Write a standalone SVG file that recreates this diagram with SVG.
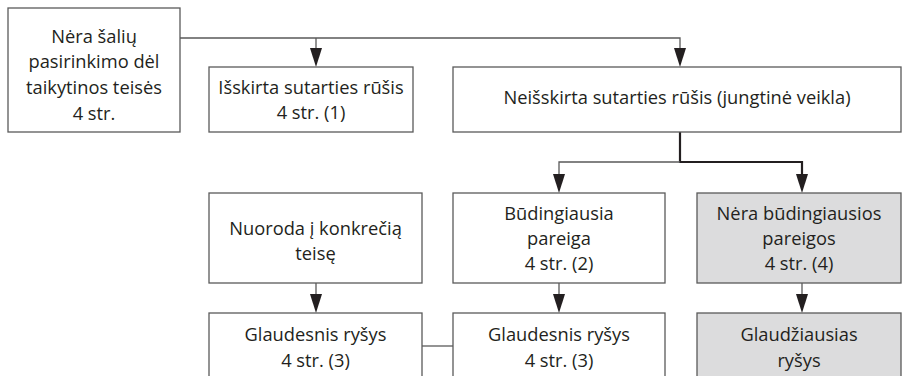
<svg xmlns="http://www.w3.org/2000/svg" width="903" height="376" viewBox="0 0 903 376">
<defs>
<style>
.box{fill:#ffffff;stroke:#5a5a5a;stroke-width:1.3}
.gray{fill:#dcdcdd;stroke:#5a5a5a;stroke-width:1.3}
text{font-family:"Open Sans","Liberation Sans",sans-serif;font-size:18.3px;fill:#231f20;text-anchor:middle}
.thin{fill:none;stroke:#5a5a5a;stroke-width:1.3}
.thick{fill:none;stroke:#231f20;stroke-width:2.2}
</style>
</defs>
<rect width="903" height="376" fill="#ffffff"/>
<g id="connectors">
<polyline class="thin" points="180,38 680,38 680,48"/>
<line class="thin" x1="316" y1="38" x2="316" y2="48"/>
<polygon points="310,48 322,48 316,67" fill="#231f20"/>
<polygon points="674,48 686,48 680,67" fill="#231f20"/>
<polyline class="thick" points="680,132 680,162 802,162 802,174"/>
<polyline class="thin" points="680,162 559,162 559,174"/>
<polygon points="553,174 565,174 559,193" fill="#231f20"/>
<polygon points="796,174 808,174 802,193" fill="#231f20"/>
<line class="thin" x1="316" y1="283" x2="316" y2="294"/>
<polygon points="310,294 322,294 316,313" fill="#231f20"/>
<line class="thin" x1="559" y1="283" x2="559" y2="294"/>
<polygon points="553,294 565,294 559,313" fill="#231f20"/>
<line class="thin" x1="802" y1="283" x2="802" y2="294"/>
<polygon points="796,294 808,294 802,313" fill="#231f20"/>
<line class="thin" x1="422" y1="346" x2="453" y2="346"/>
</g>
<g id="n1">
<rect class="box" x="8" y="8" width="172" height="124"/>
<text x="94" y="43">Nėra šalių</text>
<text x="94" y="68">pasirinkimo dėl</text>
<text x="94" y="94">taikytinos teisės</text>
<text x="94" y="120">4 str.</text>
</g>
<g id="n2">
<rect class="box" x="209" y="67" width="204" height="65"/>
<text x="311" y="94">Išskirta sutarties rūšis</text>
<text x="311" y="119">4 str. (1)</text>
</g>
<g id="n3">
<rect class="box" x="453" y="67" width="448" height="65"/>
<text x="677" y="104">Neišskirta sutarties rūšis (jungtinė veikla)</text>
</g>
<g id="n4">
<rect class="box" x="209" y="193" width="213" height="90"/>
<text x="315.5" y="235">Nuoroda į konkrečią</text>
<text x="315.5" y="260">teisę</text>
</g>
<g id="n5">
<rect class="box" x="453" y="193" width="212" height="90"/>
<text x="559" y="220">Būdingiausia</text>
<text x="559" y="245">pareiga</text>
<text x="559" y="270">4 str. (2)</text>
</g>
<g id="n6">
<rect class="gray" x="697" y="193" width="204" height="90"/>
<text x="799" y="220">Nėra būdingiausios</text>
<text x="799" y="245">pareigos</text>
<text x="799" y="270">4 str. (4)</text>
</g>
<g id="n7">
<rect class="box" x="209" y="313" width="213" height="80"/>
<text x="315.5" y="341">Glaudesnis ryšys</text>
<text x="315.5" y="367">4 str. (3)</text>
</g>
<g id="n8">
<rect class="box" x="453" y="313" width="212" height="80"/>
<text x="559" y="341">Glaudesnis ryšys</text>
<text x="559" y="367">4 str. (3)</text>
</g>
<g id="n9">
<rect class="gray" x="697" y="313" width="204" height="80"/>
<text x="799" y="341">Glaudžiausias</text>
<text x="799" y="367">ryšys</text>
</g>
</svg>
